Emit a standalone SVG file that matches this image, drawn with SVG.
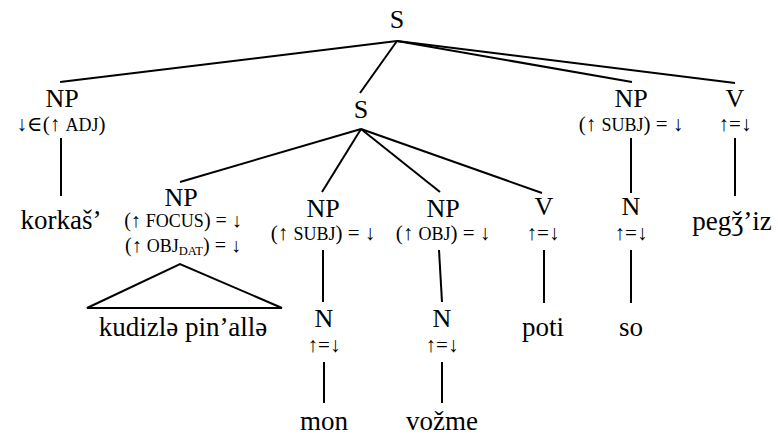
<svg xmlns="http://www.w3.org/2000/svg" width="778" height="436" viewBox="0 0 778 436">
  <style>
    text { fill: #000; text-anchor: middle; font-family: "Liberation Serif", "DejaVu Serif", serif; }
    .lbl { font-size: 26px; }
    .ann { font-size: 21px; }
    .ann2 { font-size: 20px; }
    .sc { font-size: 18px; }
    .sub { font-size: 12.5px; }
    .wd { font-size: 27px; }
    .edge { stroke: #000; stroke-width: 2; fill: none; }
  </style>
  <rect width="778" height="436" fill="#fff"/>

  <!-- tree branches -->
  <g id="connectors" class="edge">
    <path d="M397 41 L60 82"/>
    <path d="M397 41 L360 93"/>
    <path d="M397 41 L632 82"/>
    <path d="M397 41 L735 83"/>
    <path d="M361 129 L180 182"/>
    <path d="M361 129 L322 192"/>
    <path d="M361 129 L440 192"/>
    <path d="M361 129 L542 193"/>
    <path d="M61 138 L61 196"/>
    <path d="M631 138 L631 193"/>
    <path d="M735 138 L735 196"/>
    <path d="M323 250 L323 302"/>
    <path d="M439 250 L442 302"/>
    <path d="M544 250 L544 303"/>
    <path d="M631 250 L631 303"/>
    <path d="M324 362 L324 403"/>
    <path d="M442 362 L442 403"/>
    <!-- collapsed constituent -->
    <path d="M87 308 L180 264 L282 308 Z"/>
  </g>

  <g id="s-root"><text class="lbl" x="397" y="28">S</text></g>

  <g id="np-adj">
    <text class="lbl" x="62" y="107">NP</text>
    <text class="ann" x="61" y="131">↓∈(↑ <tspan class="sc">ADJ</tspan>)</text>
  </g>
  <g id="w-korkas"><text class="wd" x="61" y="229">korkaš’</text></g>

  <g id="s-inner"><text class="lbl" x="361" y="118">S</text></g>

  <g id="np-subj-top">
    <text class="lbl" x="631" y="107">NP</text>
    <text class="ann" x="631" y="131">(↑ <tspan class="sc">SUBJ</tspan>) = ↓</text>
  </g>
  <g id="n-so">
    <text class="lbl" x="631" y="215">N</text>
    <text class="ann" x="631" y="240">↑=↓</text>
  </g>
  <g id="w-so"><text class="wd" x="631" y="336">so</text></g>

  <g id="v-top">
    <text class="lbl" x="735" y="107">V</text>
    <text class="ann" x="735" y="131">↑=↓</text>
  </g>
  <g id="w-pegziz"><text class="wd" x="732" y="230">pegǯ’iz</text></g>

  <g id="np-focus">
    <text class="lbl" x="181" y="206">NP</text>
    <text class="ann2" x="183" y="227">(↑ <tspan class="sc">FOCUS</tspan>) = ↓</text>
    <text class="ann2" x="183" y="252">(↑ <tspan class="sc">OBJ</tspan><tspan class="sub" dy="3">DAT</tspan><tspan dy="-3">) = ↓</tspan></text>
  </g>
  <g id="w-kudizle"><text class="wd" x="183" y="336">kudizlə pin’allə</text></g>

  <g id="np-subj">
    <text class="lbl" x="323" y="217">NP</text>
    <text class="ann" x="323" y="240">(↑ <tspan class="sc">SUBJ</tspan>) = ↓</text>
  </g>
  <g id="n-mon">
    <text class="lbl" x="324" y="327">N</text>
    <text class="ann" x="324" y="352">↑=↓</text>
  </g>
  <g id="w-mon"><text class="wd" x="324" y="430">mon</text></g>

  <g id="np-obj">
    <text class="lbl" x="443" y="217">NP</text>
    <text class="ann" x="443" y="240">(↑ <tspan class="sc">OBJ</tspan>) = ↓</text>
  </g>
  <g id="n-vozme">
    <text class="lbl" x="442" y="327">N</text>
    <text class="ann" x="442" y="352">↑=↓</text>
  </g>
  <g id="w-vozme"><text class="wd" x="442" y="430">vožme</text></g>

  <g id="v-poti">
    <text class="lbl" x="544" y="215">V</text>
    <text class="ann" x="543" y="240">↑=↓</text>
  </g>
  <g id="w-poti"><text class="wd" x="543" y="336">poti</text></g>
</svg>
